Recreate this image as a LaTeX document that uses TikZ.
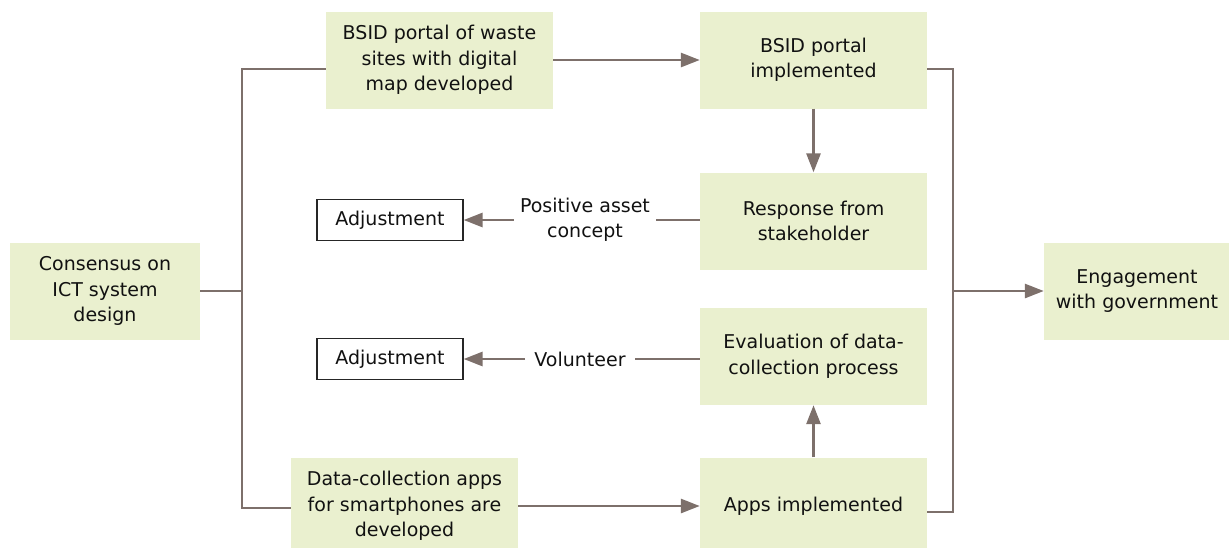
\documentclass[tikz,border=0pt]{standalone}
\usepackage{fontspec}
\setmainfont{DejaVu Sans}
\usetikzlibrary{arrows.meta}
\definecolor{boxfill}{HTML}{EAF0CF}
\definecolor{conncol}{HTML}{7D706B}
\definecolor{txtcol}{HTML}{111111}
\begin{document}
\begin{tikzpicture}[x=1pt,y=-1pt,
  every node/.style={font=\fontsize{19}{25.5}\selectfont, text=txtcol, align=center},
  gbox/.style={fill=boxfill, draw=none, inner sep=0pt, minimum width=227pt, minimum height=97pt},
  adjbox/.style={draw=black!85, line width=1.2pt, fill=white, inner sep=0pt, minimum width=146pt, minimum height=41pt},
  lbl/.style={inner sep=6pt},
  conn/.style={draw=conncol, line width=2.8pt},
  arr/.style={conn, -{Triangle[length=19pt,width=14pt]}}
]
\useasboundingbox (0,0) rectangle (1229,547);
% nodes
\node[gbox, minimum width=190pt] (cons) at (105,291) {Consensus on\\ICT system\\design};
\node[gbox] (bsid) at (439.5,60) {BSID portal of waste\\sites with digital\\map developed};
\node[gbox] (impl) at (813.5,60) {BSID portal\\implemented};
\node[gbox] (resp) at (813.5,221) {Response from\\stakeholder};
\node[gbox] (eval) at (813.5,356.5) {Evaluation of data-\\collection process};
\node[gbox] (dc) at (404.5,506) {Data-collection apps\\for smartphones are\\developed};
\node[gbox] (apps) at (813.5,506) {Apps implemented};
\node[gbox, minimum width=186pt] (eng) at (1137,291) {Engagement\\with government};
\node[adjbox] (adj1) at (390,220) {Adjustment};
\node[adjbox] (adj2) at (390,359) {Adjustment};
\node[lbl] (l1) at (585,220) {Positive asset\\concept};
\node[lbl, inner sep=9pt] (l2) at (580,359) {Volunteer};
% junctions
\coordinate (jt) at (242,69);
\coordinate (jb) at (242,508);
\coordinate (rt) at (953,69);
\coordinate (rb) at (953,512);
% connectors
\draw[conn] (cons.east) -- (cons.east -| jt);
\draw[conn] (jt -| bsid.west) -- (jt) -- (jb) -- (jb -| dc.west);
\draw[arr] (bsid.east) -- (impl.west);
\draw[arr] (impl.south) -- (resp.north);
\draw[conn] (resp.west |- l1.east) -- (l1.east);
\draw[arr] (l1.west) -- (adj1.east |- l1.west);
\draw[conn] (eval.west |- l2.east) -- (l2.east);
\draw[arr] (l2.west) -- (adj2.east |- l2.west);
\draw[arr] (dc.east) -- (apps.west);
\draw[arr] (apps.north) -- (eval.south);
\draw[conn] (rt -| impl.east) -- (rt) -- (rb) -- (rb -| apps.east);
\draw[arr] (rt |- eng.west) -- (eng.west);
\end{tikzpicture}
\end{document}
